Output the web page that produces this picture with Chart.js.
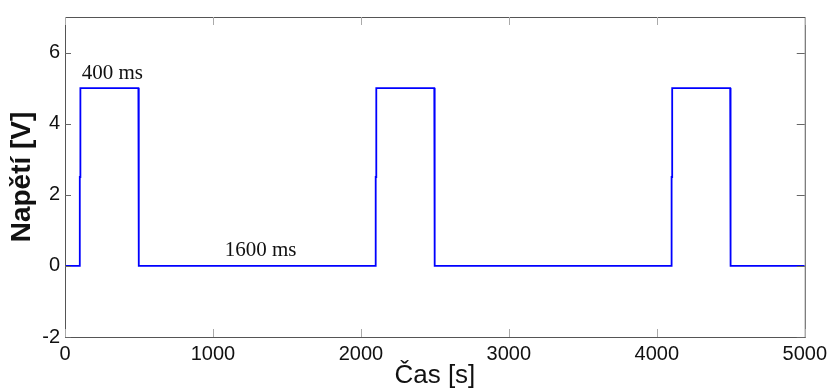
<!DOCTYPE html>
<html>
<head>
<meta charset="utf-8">
<script src="https://cdn.jsdelivr.net/npm/chart.js@4"></script>
<style>
  html, body { margin: 0; padding: 0; background: #fff; }
  #wrap { width: 832px; height: 391px; }
</style>
</head>
<body>
<div id="wrap"><canvas id="Chart1" width="832" height="391"></canvas></div>
<script>
// pulse signal (time in s, voltage in V)
const times = [0, 100, 100, 104, 104, 496, 496, 500, 500,
               2100, 2100, 2104, 2104, 2496, 2496, 2500, 2500,
               4100, 4100, 4104, 4104, 4496, 4496, 4500, 4500, 5000];
const volts = [0, 0, 2.5, 2.5, 5, 5, 2.5, 2.5, 0,
               0, 2.5, 2.5, 5, 5, 2.5, 2.5, 0,
               0, 2.5, 2.5, 5, 5, 2.5, 2.5, 0, 0];

const xTicks = [0, 1000, 2000, 3000, 4000, 5000];
const yTicks = [-2, 0, 2, 4, 6];

const labelTexts = ['400 ms', '1600 ms'];
const labelX = [113, 1080];
const labelY = [5.25, 0.28];

const points = times.map((t, i) => ({x: t, y: volts[i]}));

// frame, inward ticks and the text labels
const framePlugin = {
    id: 'frame',
    afterDraw(chart) {
        const ctx = chart.ctx;
        const a = chart.chartArea;
        const xs = chart.scales.x;
        const ys = chart.scales.y;
        ctx.save();
        ctx.strokeStyle = '#555';
        ctx.lineWidth = 1;
        ctx.strokeRect(a.left + 0.5, a.top + 0.5, a.right - a.left, a.bottom - a.top);

        ctx.strokeStyle = '#aaa';
        xTicks.forEach(v => {
            const px = Math.round(xs.getPixelForValue(v)) + 0.5;
            ctx.beginPath();
            ctx.moveTo(px, a.bottom);
            ctx.lineTo(px, a.bottom - 8);
            ctx.moveTo(px, a.top);
            ctx.lineTo(px, a.top + 8);
            ctx.stroke();
        });
        ctx.strokeStyle = '#666';
        yTicks.forEach(v => {
            const py = Math.round(ys.getPixelForValue(v)) + 0.5;
            ctx.beginPath();
            ctx.moveTo(a.left, py);
            ctx.lineTo(a.left + 6, py);
            ctx.moveTo(a.right, py);
            ctx.lineTo(a.right - 8, py);
            ctx.stroke();
        });

        ctx.fillStyle = '#111';
        ctx.font = '21px "Liberation Serif", "Times New Roman", serif';
        ctx.textBaseline = 'alphabetic';
        ctx.textAlign = 'left';
        labelTexts.forEach((txt, i) => {
            ctx.fillText(txt, xs.getPixelForValue(labelX[i]), ys.getPixelForValue(labelY[i]));
        });
        ctx.restore();
    }
};

const ctx = document.getElementById('Chart1').getContext('2d');
const chart = new Chart(ctx, {
    type: 'scatter',
    data: {
        datasets: [{
            data: points,
            showLine: true,
            borderColor: '#0000ff',
            borderWidth: 1.8,
            pointRadius: 0,
            fill: false,
            tension: 0
        }]
    },
    options: {
        responsive: false,
        animation: false,
        layout: {padding: {top: 14, right: 26, left: 0, bottom: 0}},
        plugins: {legend: {display: false}, tooltip: {enabled: false}},
        scales: {
            x: {
                type: 'linear',
                min: 0,
                max: 5000,
                afterBuildTicks: s => { s.ticks = xTicks.map(v => ({value: v})); },
                afterFit: s => { s.height = 54; },
                grid: {display: false, drawTicks: false},
                border: {display: false},
                ticks: {
                    color: '#111',
                    padding: 5,
                    maxRotation: 0,
                    callback: v => String(v),
                    font: {family: '"Liberation Sans", Arial, sans-serif', size: 20}
                },
                title: {
                    display: true,
                    text: 'Čas [s]',
                    color: '#111',
                    padding: {top: 0, bottom: 0},
                    font: {family: '"Liberation Sans", Arial, sans-serif', size: 26}
                }
            },
            y: {
                type: 'linear',
                min: -2,
                max: 7,
                afterBuildTicks: s => { s.ticks = yTicks.map(v => ({value: v})); },
                afterFit: s => { s.width = 65; },
                grid: {display: false, drawTicks: false},
                border: {display: false},
                ticks: {
                    color: '#111',
                    padding: 5,
                    callback: v => String(v),
                    font: {family: '"Liberation Sans", Arial, sans-serif', size: 20}
                },
                title: {
                    display: true,
                    text: 'Napětí [V]',
                    color: '#111',
                    padding: {top: 5, bottom: 0},
                    font: {family: '"Liberation Sans", Arial, sans-serif', size: 28, weight: 'bold'}
                }
            }
        }
    },
    plugins: [framePlugin]
});
</script>
</body>
</html>
